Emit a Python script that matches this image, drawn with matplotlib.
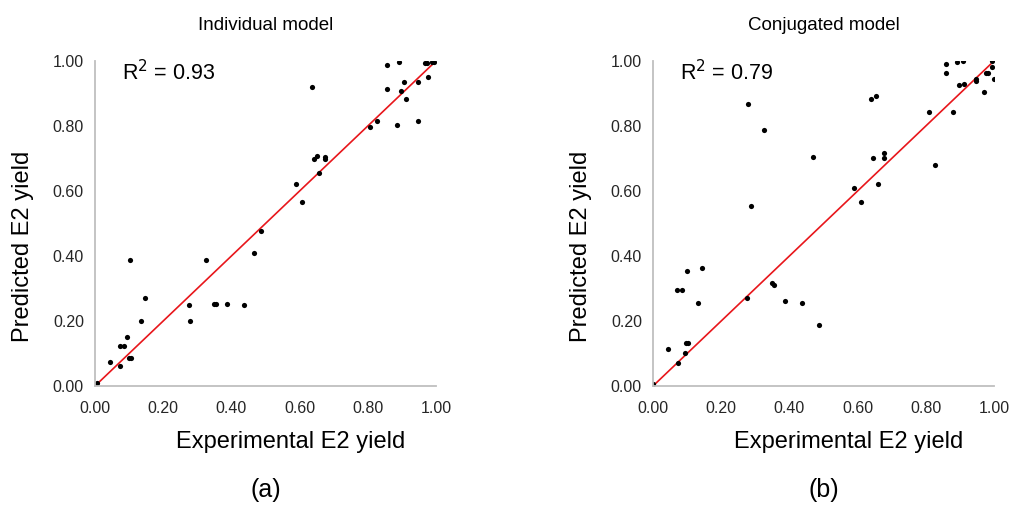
import matplotlib
matplotlib.use("Agg")
import matplotlib.pyplot as plt

plt.rcParams['font.family'] = ['Liberation Sans', 'DejaVu Sans']

# (a) individual model: experimental vs predicted E2 yield
ind_exp = [0.005, 0.045, 0.072, 0.072, 0.086, 0.095, 0.100, 0.106, 0.134, 0.147,
           0.103, 0.277, 0.279, 0.326, 0.348, 0.354, 0.387, 0.437, 0.467, 0.487,
           0.636, 0.588, 0.606, 0.642, 0.652, 0.673, 0.673, 0.656, 0.807, 0.827,
           0.857, 0.890, 0.857, 0.887, 0.897, 0.907, 0.912, 0.946, 0.946, 0.977,
           0.969, 0.973, 0.987, 0.993]
ind_pred = [0.010, 0.075, 0.062, 0.124, 0.124, 0.152, 0.085, 0.085, 0.199, 0.272,
            0.387, 0.249, 0.199, 0.387, 0.252, 0.252, 0.252, 0.249, 0.408, 0.477,
            0.920, 0.621, 0.566, 0.699, 0.708, 0.703, 0.697, 0.656, 0.796, 0.815,
            0.989, 0.997, 0.913, 0.803, 0.908, 0.934, 0.883, 0.935, 0.816, 0.950,
            0.993, 0.993, 0.996, 0.996]

# (b) conjugated model
con_exp = [0.000, 0.043, 0.072, 0.093, 0.097, 0.104, 0.070, 0.086, 0.101, 0.145,
           0.132, 0.276, 0.286, 0.348, 0.355, 0.387, 0.437, 0.487, 0.280, 0.325,
           0.470, 0.640, 0.653, 0.646, 0.676, 0.676, 0.659, 0.590, 0.609, 0.827,
           0.810, 0.858, 0.890, 0.908, 0.858, 0.880, 0.896, 0.912, 0.948, 0.948,
           0.976, 0.982, 0.972, 0.993, 0.995, 0.999]
con_pred = [0.005, 0.115, 0.070, 0.103, 0.133, 0.133, 0.294, 0.294, 0.354, 0.362,
            0.254, 0.271, 0.553, 0.316, 0.310, 0.262, 0.254, 0.188, 0.868, 0.787,
            0.703, 0.882, 0.892, 0.700, 0.716, 0.700, 0.620, 0.608, 0.566, 0.679,
            0.843, 0.990, 0.996, 1.000, 0.962, 0.843, 0.926, 0.928, 0.945, 0.939,
            0.962, 0.962, 0.905, 1.000, 0.981, 0.946]

ticks = [0.0, 0.2, 0.4, 0.6, 0.8, 1.0]
tick_labels = ['%.2f' % t for t in ticks]

fig = plt.figure(figsize=(10.14, 5.08), dpi=100)

panels = [
    (0.0937, ind_exp, ind_pred, "Individual model", "R$^2$ = 0.93", "(a)"),
    (0.6440, con_exp, con_pred, "Conjugated model", "R$^2$ = 0.79", "(b)"),
]

for left, xs, ys, title, r2, tag in panels:
    ax = fig.add_axes([left, 0.2402, 0.3363, 0.6398])
    ax.plot([0, 0.99], [0, 0.99], color='#e8161b', lw=1.2, zorder=1)
    ax.scatter(xs, ys, s=14, color='black', zorder=2, linewidths=0)
    ax.set_xlim(0, 1.0)
    ax.set_ylim(0, 1.0)
    ax.set_xticks(ticks)
    ax.set_yticks(ticks)
    ax.set_xticklabels(tick_labels, fontsize=11.5, color='#262626')
    ax.set_yticklabels(tick_labels, fontsize=11.5, color='#262626')
    ax.tick_params(axis='y', length=0, pad=8)
    ax.tick_params(axis='x', length=0, pad=11)
    for side in ['top', 'right']:
        ax.spines[side].set_visible(False)
    for side in ['left', 'bottom']:
        ax.spines[side].set_color('#bfbfbf')
        ax.spines[side].set_linewidth(1.3)
    ax.set_xlabel("Experimental E2 yield", fontsize=17)
    ax.set_ylabel("Predicted E2 yield", fontsize=17)
    ax.xaxis.set_label_coords(0.575, -0.14)
    ax.yaxis.set_label_coords(-0.18, 0.43)
    ax.set_title(title, fontsize=13.5, pad=22)
    ax.text(0.08, 0.965, r2, transform=ax.transAxes, fontsize=15.5, va='center')
    ax.text(0.5, -0.32, tag, transform=ax.transAxes, fontsize=18,
            ha='center', va='center')

fig.savefig("out.png", dpi=100)
